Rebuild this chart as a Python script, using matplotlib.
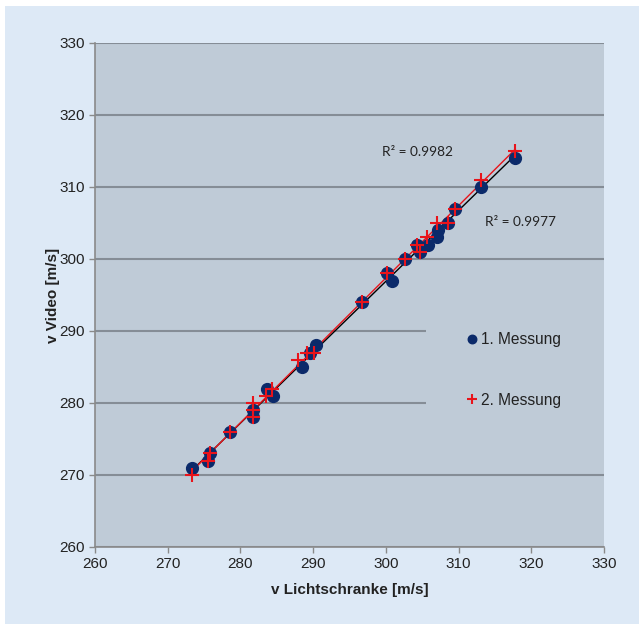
import numpy as np
import matplotlib
matplotlib.use("Agg")
import matplotlib.pyplot as plt
from matplotlib.patches import Rectangle

# Data
m1_x = [273.3, 275.5, 275.8, 278.6, 281.7, 281.7, 283.7, 284.5, 288.5, 289.6, 290.4,
        296.7, 300.2, 300.8, 302.6, 304.3, 304.7, 305.8, 307.0, 307.2, 308.6, 309.5,
        313.1, 317.8]
m1_y = [271, 272, 273, 276, 278, 279, 282, 281, 285, 287, 288,
        294, 298, 297, 300, 302, 301, 302, 303, 304, 305, 307,
        310, 314]
m2_x = [273.3, 275.5, 275.8, 278.6, 281.7, 281.7, 281.7, 283.5, 284.3, 287.9, 289.2,
        290.1, 296.7, 300.2, 302.6, 304.3, 304.7, 305.7, 307.0, 308.6, 309.5, 313.1,
        317.8]
m2_y = [270, 272, 273, 276, 280, 279, 278, 281, 282, 286, 287,
        287, 294, 298, 300, 302, 301, 303, 305, 305, 307, 311,
        315]
labels = ["1. Messung", "2. Messung"]
r2_labels = ["R² = 0.9977", "R² = 0.9982"]
ticks = [260, 270, 280, 290, 300, 310, 320, 330]

axbg = "#bfcbd7"
figbg = "#dde9f6"
navy = "#0b2a6a"
red = "#e8141b"

fig = plt.figure(figsize=(6.39, 6.24), dpi=100, facecolor="white")
bg = Rectangle((5/639, 0), 1, 1 - 6/624, transform=fig.transFigure,
               facecolor=figbg, edgecolor="none", zorder=-10)
fig.patches.append(bg)

ax = fig.add_axes([95/639, 1 - 547/624, 509/639, 504/624])
ax.set_zorder(5)
ax.set_facecolor(axbg)
ax.set_xlim(260, 330)
ax.set_ylim(260, 330)
ax.set_xticks(ticks)
ax.set_yticks(ticks)
ax.set_axisbelow(True)
ax.yaxis.grid(True, color="#858d96", linewidth=1.5)
for s in ["top", "right"]:
    ax.spines[s].set_visible(False)
for s in ["left", "bottom"]:
    ax.spines[s].set_color("#8a8a8a")
    ax.spines[s].set_linewidth(1.2)
ax.tick_params(direction="out", length=4, color="#8a8a8a", width=1,
               labelsize=11, labelcolor="#222222")
for lab in ax.get_xticklabels() + ax.get_yticklabels():
    lab.set_fontfamily("Liberation Sans")

# legend background box covering grid lines
ax.add_patch(Rectangle((0.650, 0.255), 0.35, 0.21, transform=ax.transAxes,
                       facecolor=axbg, edgecolor="none", zorder=1))

# trend lines
for xs, ys, c in [(m1_x, m1_y, "black"), (m2_x, m2_y, red)]:
    xs = np.array(xs); ys = np.array(ys)
    k, b = np.polyfit(xs, ys, 1)
    xx = np.array([xs.min(), xs.max()])
    ax.plot(xx, k * xx + b, color=c, linewidth=1.0, zorder=3)

h1, = ax.plot(m1_x, m1_y, "o", color=navy, markersize=8.5, linestyle="none",
              zorder=4, label=labels[0])
h2, = ax.plot(m2_x, m2_y, "+", color=red, markersize=10, markeredgewidth=1.5,
              linestyle="none", zorder=5, label=labels[1])

leg = ax.legend(handles=[h1, h2], loc="upper left",
                bbox_to_anchor=((452 - 95) / 509, (547 - 318) / 504),
                frameon=False, handlelength=0.8, handletextpad=0.15,
                labelspacing=2.95, markerscale=0.72,
                prop={"family": "Liberation Sans", "size": 11.2})
for t in leg.get_texts():
    t.set_color("#222222")

ax.text((485 - 95) / 509, (547 - 222) / 504, r2_labels[0], transform=ax.transAxes,
        ha="left", va="center", fontsize=9.8, fontfamily="Lato", color="#222222")
ax.text((382 - 95) / 509, (547 - 152) / 504, r2_labels[1], transform=ax.transAxes,
        ha="left", va="center", fontsize=9.8, fontfamily="Lato", color="#222222")

ax.set_xlabel("v Lichtschranke [m/s]", fontsize=11, fontweight="bold",
              fontfamily="Liberation Sans", color="#222222", labelpad=8)
ax.set_ylabel("v Video [m/s]", fontsize=11, fontweight="bold",
              fontfamily="Liberation Sans", color="#222222", labelpad=-1)

fig.savefig("out.png", dpi=100, facecolor=fig.get_facecolor())
